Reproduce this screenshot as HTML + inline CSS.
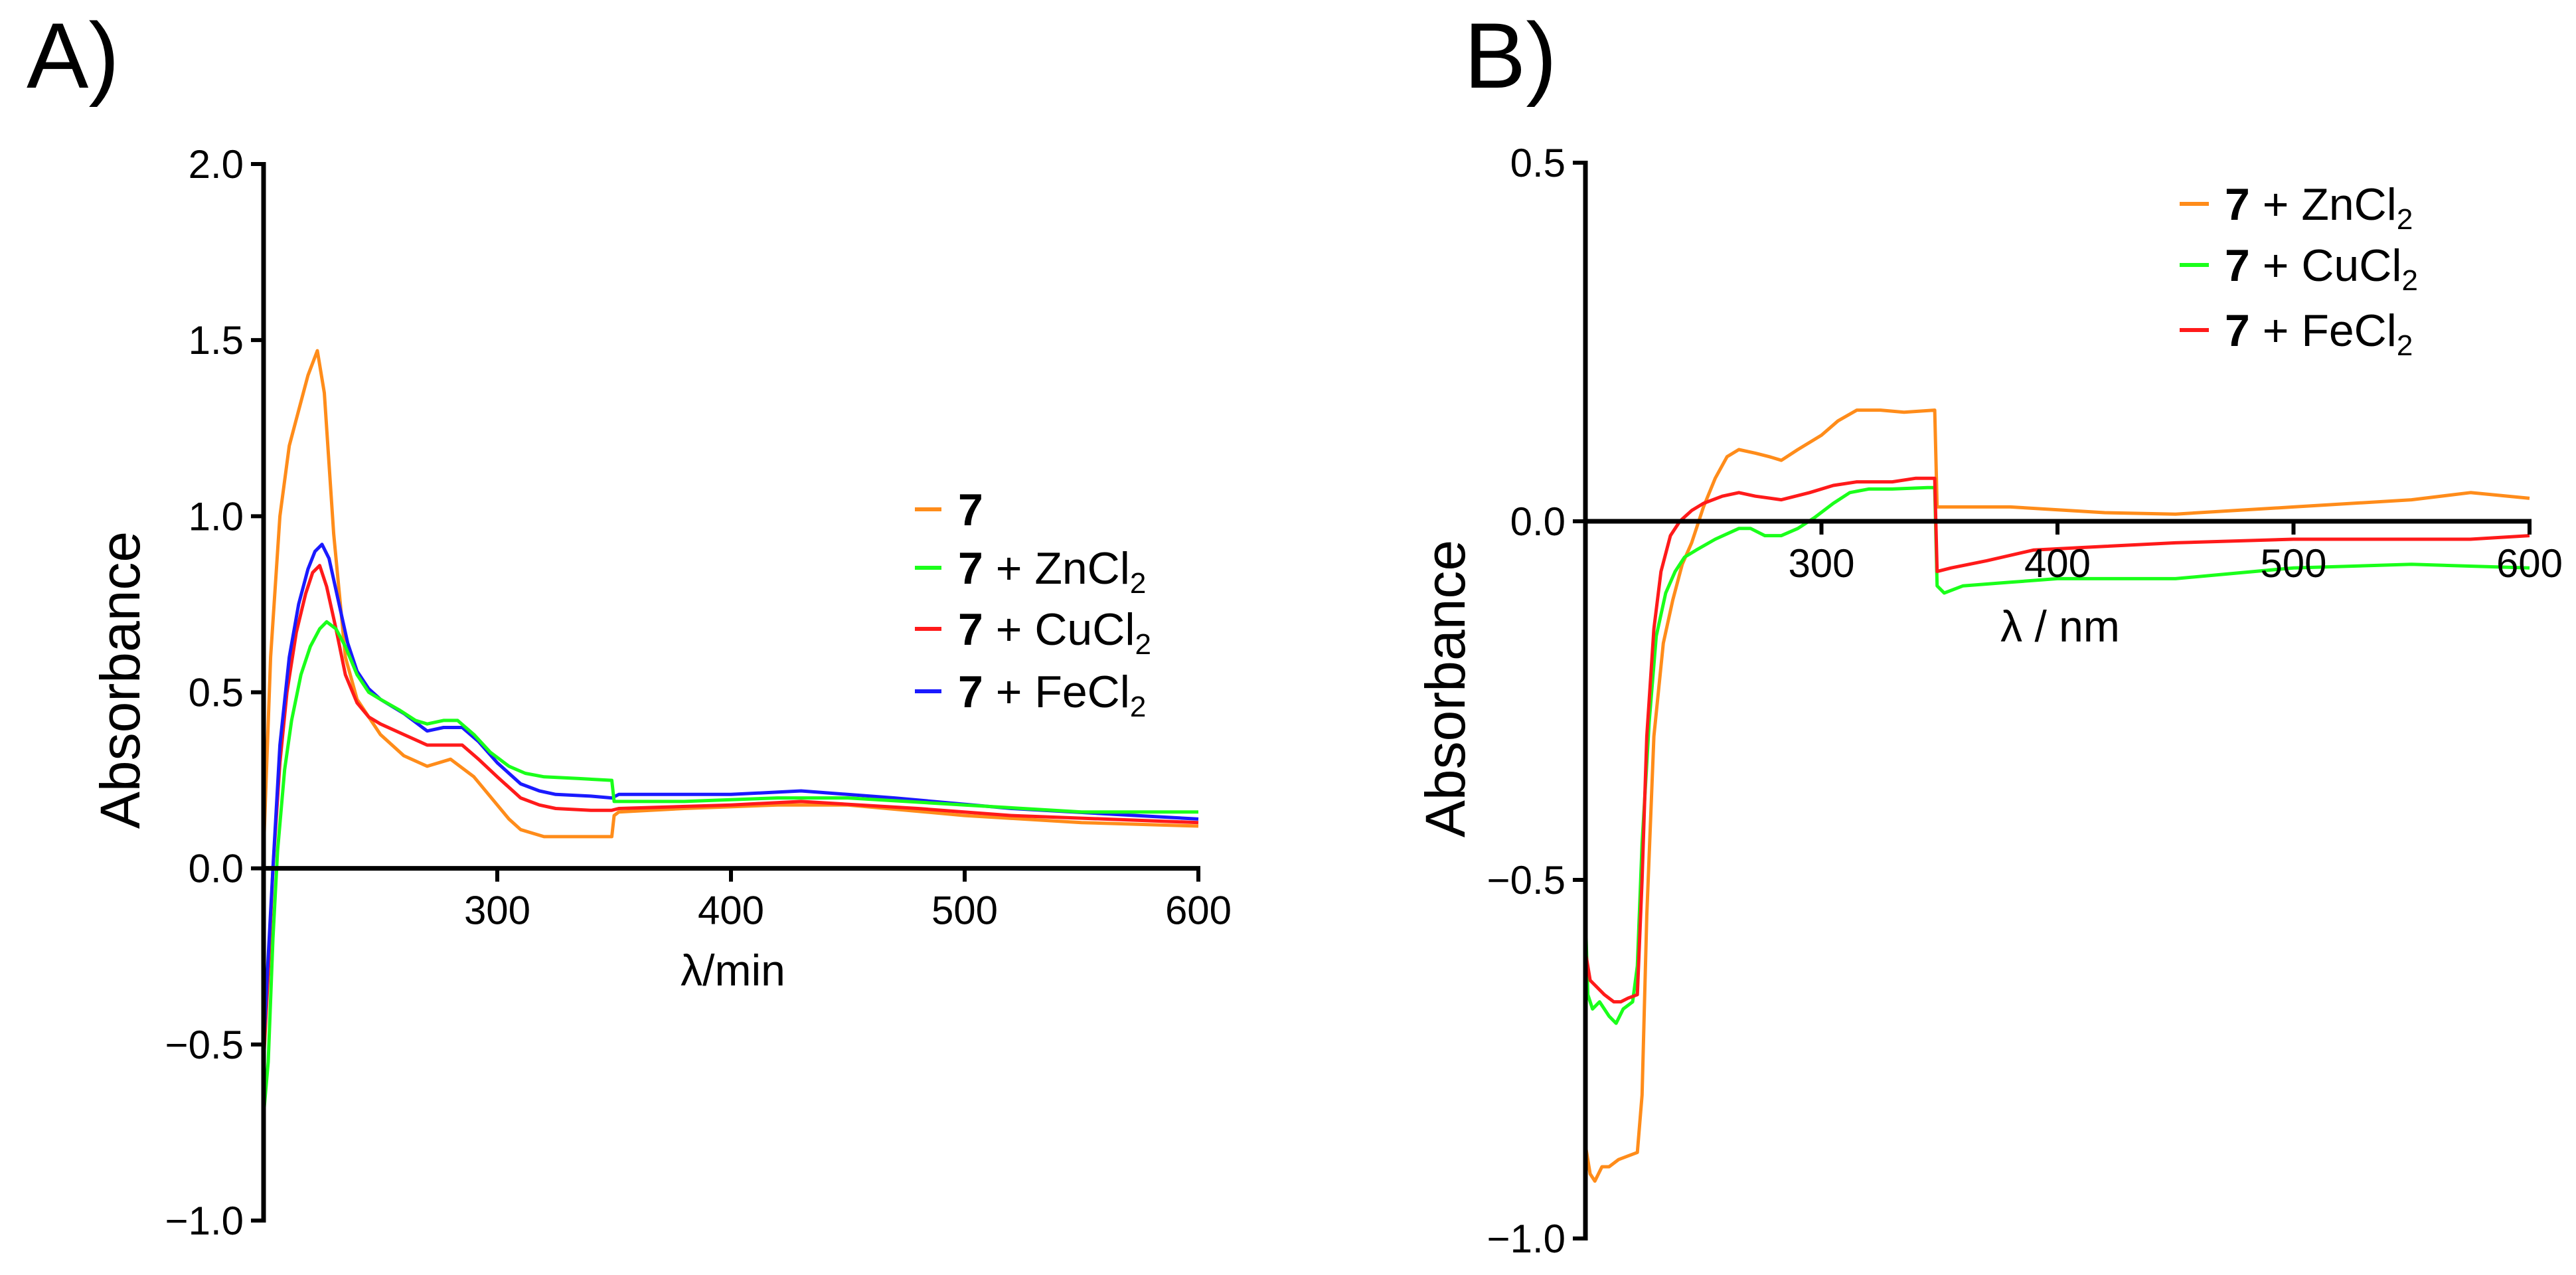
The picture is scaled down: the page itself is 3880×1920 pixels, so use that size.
<!DOCTYPE html>
<html><head><meta charset="utf-8"><style>
html,body{margin:0;padding:0;background:#fff;}
svg{display:block;font-family:"Liberation Sans",Arial,sans-serif;}
</style></head><body>
<svg id="fig" width="3880" height="1920" viewBox="0 0 3880 1920" xmlns="http://www.w3.org/2000/svg">
<text x="40" y="132" font-size="140">A)</text>
<text x="2205" y="132" font-size="140">B)</text>
<g id="pa"></g>
<g id="pb"></g>
</svg>
<script>
// ---- Panel A data ----
const aXTicks = [300, 400, 500, 600];
const aYTicks = [-1.0, -0.5, 0.0, 0.5, 1.0, 1.5, 2.0];
const aNames = ["7", "7 + ZnCl2", "7 + CuCl2", "7 + FeCl2"];
const aColors = ["#ff8c1a", "#1aff1a", "#ff1a1a", "#1a1aff"];
const aOrangeX = [200,203,207,211,215,219,223,226,230,235,240,250,260,270,280,290,300,305,310,315,320,335,349,350,352,380,420,450,500,550,600];
const aOrangeY = [0.05,0.6,1.0,1.2,1.3,1.4,1.47,1.35,0.95,0.6,0.48,0.38,0.32,0.29,0.31,0.26,0.18,0.14,0.11,0.1,0.09,0.09,0.09,0.15,0.16,0.17,0.18,0.18,0.15,0.13,0.12];
const aGreenX = [200,202,204,206,209,212,216,220,224,227,231,235,240,245,250,258,265,270,277,283,290,297,305,312,320,335,349,350,360,380,420,450,500,550,600];
const aGreenY = [-0.7,-0.55,-0.2,0.05,0.28,0.42,0.55,0.63,0.68,0.7,0.68,0.63,0.55,0.5,0.48,0.45,0.42,0.41,0.42,0.42,0.38,0.33,0.29,0.27,0.26,0.255,0.25,0.19,0.19,0.19,0.2,0.2,0.18,0.16,0.16];
const aRedX = [200,202,204,207,210,214,218,221,224,227,231,235,240,245,250,260,270,275,285,292,300,310,318,325,340,349,352,400,430,480,520,600];
const aRedY = [-0.55,-0.3,0.0,0.3,0.5,0.67,0.78,0.84,0.86,0.8,0.68,0.55,0.47,0.43,0.41,0.38,0.35,0.35,0.35,0.31,0.26,0.2,0.18,0.17,0.165,0.165,0.17,0.18,0.19,0.17,0.15,0.13];
const aBlueX = [200,202,204,207,211,215,219,222,225,228,232,236,240,245,250,260,270,277,285,292,300,310,318,325,340,349,352,400,430,470,520,600];
const aBlueY = [-0.5,-0.25,0.0,0.35,0.6,0.75,0.85,0.9,0.92,0.88,0.76,0.64,0.56,0.51,0.48,0.44,0.39,0.4,0.4,0.36,0.3,0.24,0.22,0.21,0.205,0.2,0.21,0.21,0.22,0.2,0.17,0.14];

// ---- Panel B data ----
const bXTicks = [300, 400, 500, 600];
const bYTicks = [-1.0, -0.5, 0.0, 0.5];
const bNames = ["7 + ZnCl2", "7 + CuCl2", "7 + FeCl2"];
const bColors = ["#ff8c1a", "#1aff1a", "#ff1a1a"];
const bOrangeX = [200,202,204,207,210,214,218,222,224,226,229,233,237,241,245,250,255,260,265,272,278,283,290,300,307,315,325,335,348,349,355,380,420,450,500,550,575,600];
const bOrangeY = [-0.87,-0.91,-0.92,-0.9,-0.9,-0.89,-0.885,-0.88,-0.8,-0.55,-0.3,-0.17,-0.11,-0.06,-0.03,0.02,0.06,0.09,0.1,0.095,0.09,0.085,0.1,0.12,0.14,0.155,0.155,0.152,0.155,0.02,0.02,0.02,0.012,0.01,0.02,0.03,0.04,0.032];
const bGreenX = [200,201,203,206,210,213,216,220,222,224,227,230,234,238,242,247,255,265,270,276,283,290,297,305,312,320,330,345,348,349,352,360,380,400,450,500,550,600];
const bGreenY = [-0.55,-0.66,-0.68,-0.67,-0.69,-0.7,-0.68,-0.67,-0.62,-0.45,-0.28,-0.16,-0.1,-0.07,-0.05,-0.04,-0.025,-0.01,-0.01,-0.02,-0.02,-0.01,0.005,0.025,0.04,0.045,0.045,0.047,0.047,-0.09,-0.1,-0.09,-0.085,-0.08,-0.08,-0.065,-0.06,-0.065];
const bRedX = [200,202,205,208,212,215,218,222,224,226,229,232,236,240,245,250,258,265,272,283,295,305,315,330,340,348,349,355,370,390,420,450,500,550,575,600];
const bRedY = [-0.6,-0.64,-0.65,-0.66,-0.67,-0.67,-0.665,-0.66,-0.5,-0.3,-0.15,-0.07,-0.02,0.0,0.015,0.025,0.035,0.04,0.035,0.03,0.04,0.05,0.055,0.055,0.06,0.06,-0.07,-0.065,-0.055,-0.04,-0.035,-0.03,-0.025,-0.025,-0.025,-0.02];

const NS = "http://www.w3.org/2000/svg";
function mk(tag, attrs, parent) {
  const e = document.createElementNS(NS, tag);
  for (const k in attrs) e.setAttribute(k, attrs[k]);
  parent.appendChild(e);
  return e;
}
function fmt(v){ return (v < 0 ? "\u2212" : "") + Math.abs(v).toFixed(1); }

function drawPanel(g, cfg) {
  const sx = v => cfg.x0 + (v - cfg.xmin) / (cfg.xmax - cfg.xmin) * (cfg.x1 - cfg.x0);
  const sy = v => cfg.yTop + (cfg.ymax - v) / (cfg.ymax - cfg.ymin) * (cfg.yBot - cfg.yTop);
  // series
  cfg.series.forEach((s, i) => {
    const pts = s.x.map((xv, j) => sx(xv).toFixed(1) + "," + sy(s.y[j]).toFixed(1)).join(" ");
    const pl = mk("polyline", {points: pts, fill: "none", stroke: s.color, "stroke-width": 5, "stroke-linejoin": "round"}, g);
    
    
  });
  // y axis
  const ya = mk("line", {x1: cfg.x0, y1: sy(cfg.ymax)-3, x2: cfg.x0, y2: sy(cfg.ymin)+3, stroke: "#000", "stroke-width": 7}, g);
  
  
  cfg.yTicks.forEach(v => {
    const t = mk("line", {x1: cfg.x0 - 19, y1: sy(v), x2: cfg.x0, y2: sy(v), stroke: "#000", "stroke-width": 6}, g);
    
    
    const lb = mk("text", {x: cfg.x0 - 30, y: sy(v) + 21, "font-size": 60, "text-anchor": "end"}, g);
    lb.textContent = fmt(v);
    
    
  });
  // x axis at y=0
  const y0 = sy(0);
  const xa = mk("line", {x1: cfg.x0, y1: y0, x2: sx(cfg.xmax) + 3, y2: y0, stroke: "#000", "stroke-width": 7}, g);
  
  
  cfg.xTicks.forEach(v => {
    const t = mk("line", {x1: sx(v), y1: y0, x2: sx(v), y2: y0 + 20, stroke: "#000", "stroke-width": 6}, g);
    
    
    const lb = mk("text", {x: sx(v), y: y0 + 84, "font-size": 60, "text-anchor": "middle"}, g);
    lb.textContent = String(v);
    
    
  });
  const xt = mk("text", {x: cfg.xtX, y: cfg.xtY, "font-size": 66, "text-anchor": "middle"}, g);
  xt.textContent = cfg.xTitle;
  
  
  const ytl = mk("text", {x: 0, y: 0, "font-size": 84, "text-anchor": "middle", transform: "translate(" + cfg.ytX + "," + cfg.ytY + ") rotate(-90)"}, g);
  ytl.textContent = "Absorbance";
  
  
  // legend
  cfg.legend.names.forEach((n, i) => {
    const ry = cfg.legend.rows[i];
    const lg = mk("g", {}, g);
    
    
    mk("line", {x1: cfg.legend.lx0, y1: ry, x2: cfg.legend.lx1, y2: ry, stroke: cfg.legend.colors[i], "stroke-width": 6}, lg);
    const tx = mk("text", {x: cfg.legend.tx, y: ry + 24, "font-size": 68}, lg);
    const parts = n.split(" ");
    const b = mk("tspan", {"font-weight": "bold"}, tx); b.textContent = parts[0];
    if (parts.length > 1) {
      const base = parts[2].slice(0, -1), sub = parts[2].slice(-1);
      const r = mk("tspan", {}, tx); r.textContent = " + " + base;
      const s = mk("tspan", {"font-size": 44, dy: 14}, tx); s.textContent = sub;
    }
  });
}

drawPanel(document.getElementById("pa"), {
  x0: 397, x1: 1805, xmin: 200, xmax: 600, yTop: 247, yBot: 1838, ymin: -1, ymax: 2,
  xTicks: aXTicks, yTicks: aYTicks, xTitle: "\u03bb/min", xtX: 1104, xtY: 1484, ytX: 210, ytY: 1024,
  series: [
    {x: aOrangeX, y: aOrangeY, color: aColors[0], dname: "series-7"},
    {x: aRedX, y: aRedY, color: aColors[2], dname: "series-7-cucl2"},
    {x: aBlueX, y: aBlueY, color: aColors[3], dname: "series-7-fecl2"},
    {x: aGreenX, y: aGreenY, color: aColors[1], dname: "series-7-zncl2"}
  ],
  legend: {names: aNames, colors: aColors, rows: [767, 855, 947, 1041], lx0: 1378, lx1: 1418, tx: 1443}
});
drawPanel(document.getElementById("pb"), {
  x0: 2388, x1: 3810, xmin: 200, xmax: 600, yTop: 245, yBot: 1865, ymin: -1, ymax: 0.5,
  xTicks: bXTicks, yTicks: bYTicks, xTitle: "\u03bb / nm", xtX: 3103, xtY: 966, ytX: 2206, ytY: 1037,
  series: [
    {x: bOrangeX, y: bOrangeY, color: bColors[0], dname: "series-7-zncl2"},
    {x: bGreenX, y: bGreenY, color: bColors[1], dname: "series-7-cucl2"},
    {x: bRedX, y: bRedY, color: bColors[2], dname: "series-7-fecl2"}
  ],
  legend: {names: bNames, colors: bColors, rows: [307, 399, 497], lx0: 3283, lx1: 3327, tx: 3351}
});
</script>
</body></html>
